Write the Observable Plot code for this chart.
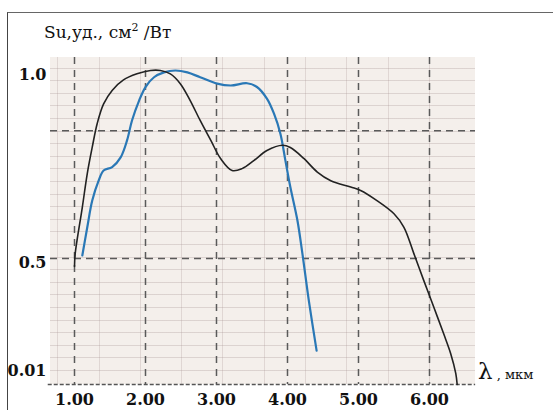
<!DOCTYPE html>
<html>
<head>
<meta charset="utf-8">
<script src="https://cdn.jsdelivr.net/npm/d3@7"></script>
<script src="https://cdn.jsdelivr.net/npm/@observablehq/plot@0.6"></script>
<style>
  html, body { margin: 0; padding: 0; background: #fff; }
  #wrap { position: relative; width: 553px; height: 410px; overflow: hidden; background: #fff; }
  #border { position: absolute; left: 7px; top: 12px; right: -2px; bottom: -2px;
    border-left: 1.5px solid #444; border-top: 1.5px solid #666; }
  #paper { position: absolute; left: 50px; top: 57px; width: 425px; height: 327px;
    background-color: #f4efeb;
    background-image:
      repeating-linear-gradient(to bottom, transparent 0px, transparent 11.6px, rgba(165,145,145,0.3) 11.6px, rgba(165,145,145,0.3) 12.6px),
      repeating-linear-gradient(to right, transparent 0px, transparent 40.3px, rgba(165,145,145,0.26) 40.3px, rgba(165,145,145,0.26) 41.3px);
    background-position: 0px -1px, -33px 0px; }
  #title { position: absolute; left: 44px; top: 21px; font-family: "DejaVu Serif", serif; font-size: 17px; color: #111; white-space: nowrap; }
  #title sup { font-size: 11px; }
  #xlabel { position: absolute; left: 478px; top: 358px; font-family: "DejaVu Serif", serif; color: #111; white-space: nowrap; }
  #xlabel .lam { font-size: 23px; }
  #xlabel .unit { font-size: 13px; }
  #chart { position: absolute; left: 0; top: 0; }
</style>
</head>
<body>
<div id="wrap">
  <div id="border"></div>
  <div id="paper"></div>
  <div id="chart"></div>
  <div id="title">Su,уд., см<sup>2</sup> /Вт</div>
  <div id="xlabel"><span class="lam">λ</span><span class="unit"> , мкм</span></div>
</div>
<script>
// Black curve (wavelength, µm ; relative sensitivity)
const blackX = [1.00, 1.01, 1.11, 1.18, 1.25, 1.32, 1.41, 1.53, 1.69, 1.88, 2.07, 2.21, 2.35, 2.49, 2.63, 2.77, 2.92, 3.06, 3.22, 3.36, 3.53, 3.71, 3.93, 4.04, 4.23, 4.42, 4.61, 4.89, 5.03, 5.26, 5.50, 5.64, 5.78, 5.92, 6.06, 6.20, 6.30, 6.37, 6.39];
const blackY = [0.469, 0.513, 0.636, 0.726, 0.796, 0.859, 0.911, 0.947, 0.975, 0.991, 1.0, 1.0, 0.991, 0.965, 0.920, 0.867, 0.814, 0.765, 0.734, 0.739, 0.761, 0.787, 0.801, 0.795, 0.766, 0.730, 0.707, 0.690, 0.681, 0.654, 0.619, 0.583, 0.513, 0.414, 0.311, 0.207, 0.129, 0.053, 0.01];
// Blue curve
const blueX = [1.11, 1.18, 1.25, 1.34, 1.41, 1.53, 1.65, 1.74, 1.81, 1.91, 2.00, 2.12, 2.26, 2.42, 2.59, 2.77, 3.01, 3.20, 3.43, 3.57, 3.71, 3.81, 3.90, 3.97, 4.04, 4.14, 4.21, 4.30, 4.41];
const blueY = [0.508, 0.583, 0.654, 0.707, 0.734, 0.743, 0.769, 0.814, 0.867, 0.920, 0.956, 0.982, 0.995, 1.0, 0.995, 0.982, 0.965, 0.960, 0.966, 0.956, 0.925, 0.885, 0.832, 0.761, 0.690, 0.601, 0.513, 0.337, 0.142];
// Axes
const xTicks = [1, 2, 3, 4, 5, 6];
const xTickLabels = ["1.00", "2.00", "3.00", "4.00", "5.00", "6.00"];
const yTicksUpper = [0.5, 1.0];
const yTickLabelsUpper = ["0.5", "1.0"];
const yTicksLower = [0.01];
const yTickLabelsLower = ["0.01"];
const dashedY = [0.5, 0.84];
const baseY = [0.01];

// The hand-drawn value axis is not linear: 0.01 -> 0.5 -> 1.0 are unevenly spaced.
const yBreaks = [0.01, 0.5, 1.0];
const yWarp = d3.scaleLinear().domain(yBreaks).range([0, 1, 2.492]);

const black = blackX.map((x, i) => ({x, y: blackY[i]}));
const blue = blueX.map((x, i) => ({x, y: blueY[i]}));

const chart = Plot.plot({
  width: 553,
  height: 410,
  marginLeft: 50,
  marginRight: 78,
  marginTop: 57,
  marginBottom: 26,
  style: {fontFamily: "DejaVu Serif", fontSize: "16px", background: "transparent", color: "#111", overflow: "visible"},
  x: {domain: [0.662, 6.648]},
  y: {transform: yWarp, domain: [0, 2.595]},
  marks: [
    Plot.ruleX(xTicks, {stroke: "#5a5a5a", strokeWidth: 1.5, strokeDasharray: "7,6"}),
    Plot.ruleY(dashedY, {stroke: "#5a5a5a", strokeWidth: 1.5, strokeDasharray: "7,5"}),
    Plot.ruleY(baseY, {stroke: "#555", strokeWidth: 1.6, strokeDasharray: "4,2", x1: 0.63, x2: 6.65}),
    Plot.line(blue, {x: "x", y: "y", curve: "catmull-rom", stroke: "#2a78b6", strokeWidth: 2.2}),
    Plot.line(black, {x: "x", y: "y", curve: "catmull-rom", stroke: "#222", strokeWidth: 1.6}),
    Plot.axisX(xTicks, {tickSize: 0, tickPadding: 9, fontWeight: "bold", tickFormat: (d, i) => xTickLabels[i], label: null}),
    Plot.axisY(yTicksUpper, {tickSize: 0, tickPadding: 4, dy: 4, fontWeight: "bold", tickFormat: (d, i) => yTickLabelsUpper[i], label: null}),
    Plot.axisY(yTicksLower, {tickSize: 0, tickPadding: 4, dy: -14, fontWeight: "bold", tickFormat: (d, i) => yTickLabelsLower[i], label: null})
  ]
});
document.getElementById("chart").appendChild(chart);
</script>
</body>
</html>
